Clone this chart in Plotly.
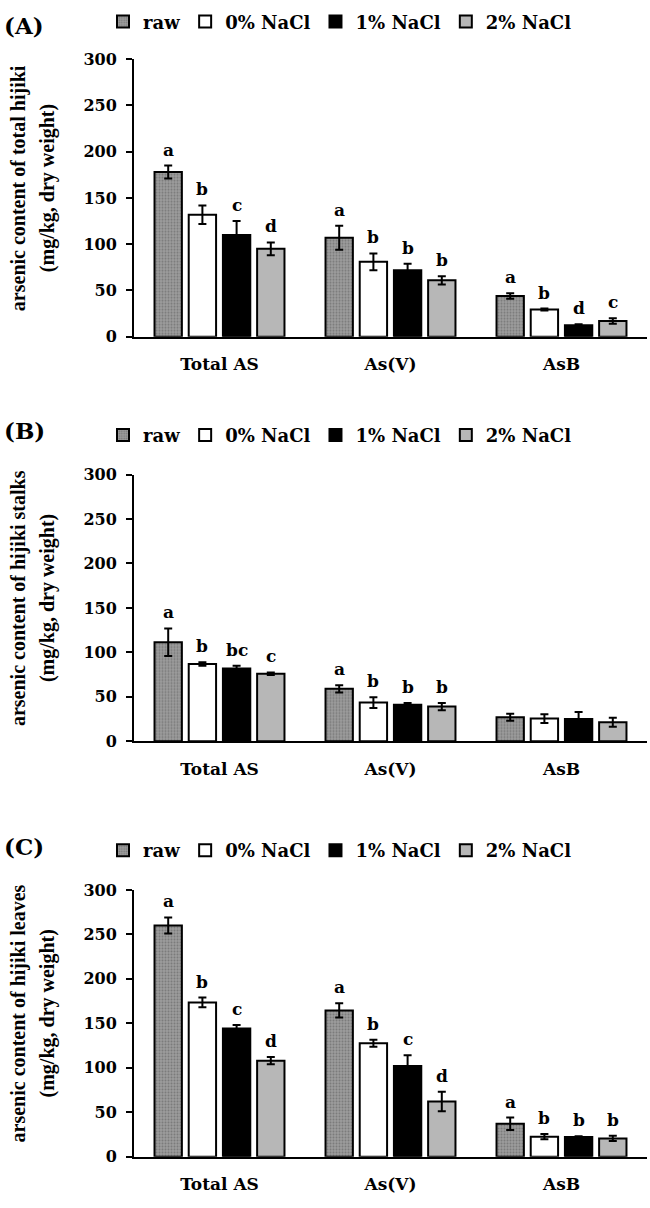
import plotly.graph_objects as go

categories = ["Total AS", "As(V)", "AsB"]
treatments = ["raw", "0% NaCl", "1% NaCl", "2% NaCl"]

# rows follow treatments, columns follow categories
# (A) total hijiki
a_mean = [[178, 107, 44], [132, 81, 29.5], [110, 72, 12.5], [95, 61, 17]]
a_err = [[7, 13, 3], [10, 9, 1], [15, 7, 1], [7, 4.5, 3]]
a_letters = [["a", "a", "a"], ["b", "b", "b"], ["c", "b", "d"], ["d", "b", "c"]]

# (B) hijiki stalks
b_mean = [[111.5, 59, 27], [87, 43.5, 25.5], [82, 41, 25], [76, 39, 21.5]]
b_err = [[15.5, 4, 4], [2, 6, 5], [3, 2, 8], [1.5, 4, 5]]
b_letters = [["a", "a", ""], ["b", "b", ""], ["bc", "b", ""], ["c", "b", ""]]

# (C) hijiki leaves
c_mean = [[260, 164.5, 37], [173.5, 127.5, 22.5], [144, 102, 22], [108, 62, 20.5]]
c_err = [[9, 8, 7], [5.5, 4, 3], [4, 12, 1], [4, 11, 3]]
c_letters = [["a", "a", "a"], ["b", "b", "b"], ["c", "c", "b"], ["d", "d", "b"]]

y_titles = [
    "arsenic content of total hijiki",
    "arsenic content of hijiki stalks",
    "arsenic content of hijiki leaves",
]
y_unit = "(mg/kg, dry weight)"
y_ticks = [0, 50, 100, 150, 200, 250, 300]

W, H = 650, 1208
FONT = "DejaVu Serif"
TITLE_FONT = "Liberation Serif"
x_dom = [134 / W, 647 / W]
# pixel rows of the 300 and 0 levels for each panel
rows_px = [(51, 333), (473, 744), (895, 1166)]
legend_px = [13, 433, 855]
label_px = [17, 428, 851]

fills = [
    dict(color="#9c9c9c", pattern=dict(shape=".", fgcolor="#555555", bgcolor="#9c9c9c",
                                       size=3, solidity=0.35)),
    dict(color="white"),
    dict(color="black"),
    dict(color="#b7b7b7"),
]

bargap, groupgap = 0.2, 0.2
slot = (x_dom[1] - x_dom[0]) * W / len(categories) * (1 - bargap) / len(treatments)

fig = go.Figure()
annotations = []
panels = [(a_mean, a_err, a_letters), (b_mean, b_err, b_letters), (c_mean, c_err, c_letters)]


def bold(family, size):
    return dict(family=family, size=size, weight="bold", color="black")


for p, (means, errs, letters) in enumerate(panels):
    sfx = "" if p == 0 else str(p + 1)
    top, bot = rows_px[p]
    for i, name in enumerate(treatments):
        fig.add_trace(go.Bar(
            x=categories, y=means[i], name=name,
            marker=dict(**fills[i], line=dict(color="black", width=2)),
            error_y=dict(type="data", array=errs[i], color="black", thickness=2, width=4),
            xaxis="x" + sfx, yaxis="y" + sfx, legend="legend" + sfx,
        ))
        for j, cat in enumerate(categories):
            if letters[i][j]:
                annotations.append(dict(
                    x=cat, y=means[i][j] + errs[i][j], xref="x" + sfx, yref="y" + sfx,
                    text=letters[i][j], showarrow=False, yshift=16,
                    xshift=(i - 1.5) * slot, yanchor="middle",
                    font=bold(FONT, 17),
                ))

    dom = [1 - bot / H, 1 - top / H]
    fig.layout["xaxis" + sfx] = dict(
        domain=x_dom, anchor="y" + sfx, showline=True, linewidth=2, linecolor="black",
        ticks="", ticklabelstandoff=11, showgrid=False, tickfont=bold(FONT, 17),
    )
    fig.layout["yaxis" + sfx] = dict(
        domain=dom, anchor="x" + sfx, range=[0, 300], tickvals=y_ticks,
        showline=True, linewidth=2, linecolor="black", ticks="outside", ticklen=6,
        tickwidth=2, tickcolor="black", showgrid=False, zeroline=False,
        ticklabelstandoff=6, tickfont=bold(FONT, 16),
    )
    fig.layout["legend" + sfx] = dict(
        orientation="h", x=103 / W, xanchor="left", y=1 - legend_px[p] / H, yanchor="middle",
        font=bold(FONT, 18), bgcolor="rgba(0,0,0,0)", itemclick=False,
    )
    mid = (top + bot) / 2 - 10
    for line_x, line_text in ((18, y_titles[p]), (47, y_unit)):
        annotations.append(dict(
            x=line_x / W, y=1 - mid / H, xref="paper", yref="paper",
            text=line_text, textangle=-90, showarrow=False,
            xanchor="center", yanchor="middle", font=bold(TITLE_FONT, 20),
        ))
    annotations.append(dict(
        x=2 / W, y=1 - label_px[p] / H, xref="paper", yref="paper",
        text="(" + "ABC"[p] + ")", showarrow=False, xanchor="left", yanchor="middle",
        font=bold(FONT, 23),
    ))

fig.update_layout(
    width=W, height=H, margin=dict(l=0, r=0, t=0, b=0),
    barmode="group", bargap=bargap, bargroupgap=groupgap,
    plot_bgcolor="white", paper_bgcolor="white",
    annotations=annotations,
)

fig.write_html("out.html", config={"displayModeBar": False},
               post_script="document.body.style.margin = '0';")
